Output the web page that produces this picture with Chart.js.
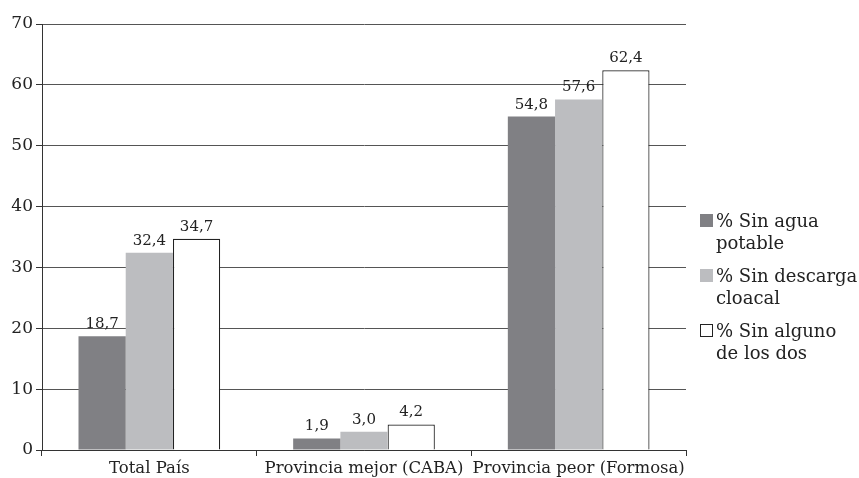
<!DOCTYPE html>
<html>
<head>
<meta charset="utf-8">
<script src="https://cdn.jsdelivr.net/npm/chart.js@4/dist/chart.umd.min.js"></script>
<style>
  html, body { margin: 0; padding: 0; background: #fff; }
  #wrap { position: relative; width: 859px; height: 478px; }
  #chart { position: absolute; left: 0; top: 0; }
  #legend { position: absolute; left: 700px; top: 210px; font-family: "DejaVu Serif", serif; font-size: 18px; color: #222; }
  .item { position: relative; height: 55px; }
  .box { position: absolute; left: 0; top: 4px; width: 13px; height: 13px; box-sizing: border-box; }
  .txt { position: absolute; left: 16px; top: 0; line-height: 22px; white-space: nowrap; }
</style>
</head>
<body>
<div id="wrap">
  <canvas id="chart" width="859" height="478"></canvas>
  <div id="legend"></div>
</div>
<script>
// Categories and series
const categories = ['Total País', 'Provincia mejor (CABA)', 'Provincia peor (Formosa)'];
const sinAgua = [18.7, 1.9, 54.8];
const sinCloacal = [32.4, 3.0, 57.6];
const sinAlguno = [34.7, 4.2, 62.4];
const seriesNames = [['% Sin agua', 'potable'], ['% Sin descarga', 'cloacal'], ['% Sin alguno', 'de los dos']];
const yTicks = [0, 10, 20, 30, 40, 50, 60, 70];

const FONT = '"DejaVu Serif", serif';
const fills = ['#808084', '#bcbdc0', '#ffffff'];
const borders = ['#808084', '#bcbdc0', '#222222'];

// Value labels above each bar, decimal comma
const valueLabels = {
  id: 'valueLabels',
  afterDatasetsDraw(chart) {
    const ctx = chart.ctx;
    ctx.save();
    ctx.font = '15px ' + FONT;
    ctx.fillStyle = '#222';
    ctx.textAlign = 'center';
    ctx.textBaseline = 'alphabetic';
    chart.data.datasets.forEach((ds, i) => {
      chart.getDatasetMeta(i).data.forEach((bar, j) => {
        ctx.fillText(ds.data[j].toFixed(1).replace('.', ','), bar.x, bar.y - 8);
      });
    });
    ctx.restore();
  }
};

new Chart(document.getElementById('chart'), {
  type: 'bar',
  data: {
    labels: categories,
    datasets: [sinAgua, sinCloacal, sinAlguno].map((d, i) => ({
      label: seriesNames[i].join(' '),
      data: d,
      backgroundColor: fills[i],
      borderColor: borders[i],
      borderWidth: i === 2 ? 1.2 : 0,
      categoryPercentage: 0.66,
      barPercentage: 1.0
    }))
  },
  options: {
    responsive: false,
    animation: false,
    layout: { padding: { left: 0, right: 173, top: 24, bottom: 0 } },
    plugins: { legend: { display: false }, tooltip: { enabled: false } },
    scales: {
      x: {
        grid: {
          offset: true,
          drawOnChartArea: true,
          color: c => c.index === 3 ? '#333' : 'rgba(0,0,0,0)',
          tickColor: '#333',
          tickLength: 6,
          lineWidth: 1
        },
        border: { color: '#333', width: 1 },
        ticks: { color: '#222', font: { family: FONT, size: 16.5 }, padding: 3, maxRotation: 0, autoSkip: false },
        afterFit: s => { s.height = 28; }
      },
      y: {
        min: 0, max: 70,
        afterBuildTicks: s => { s.ticks = yTicks.map(v => ({ value: v })); },
        grid: { color: '#555', tickColor: '#333', tickLength: 6, lineWidth: 1 },
        border: { color: '#333', width: 1 },
        ticks: { color: '#222', font: { family: FONT, size: 17 }, padding: 3 },
        afterFit: s => { s.width = 42; }
      }
    }
  },
  plugins: [valueLabels]
});

// Two-line legend at the right
const legend = document.getElementById('legend');
seriesNames.forEach((lines, i) => {
  const item = document.createElement('div');
  item.className = 'item';
  const box = document.createElement('div');
  box.className = 'box';
  box.style.background = fills[i];
  box.style.border = '1px solid ' + borders[i];
  const txt = document.createElement('div');
  txt.className = 'txt';
  txt.innerHTML = lines.join('<br>');
  item.appendChild(box);
  item.appendChild(txt);
  legend.appendChild(item);
});
</script>
</body>
</html>
